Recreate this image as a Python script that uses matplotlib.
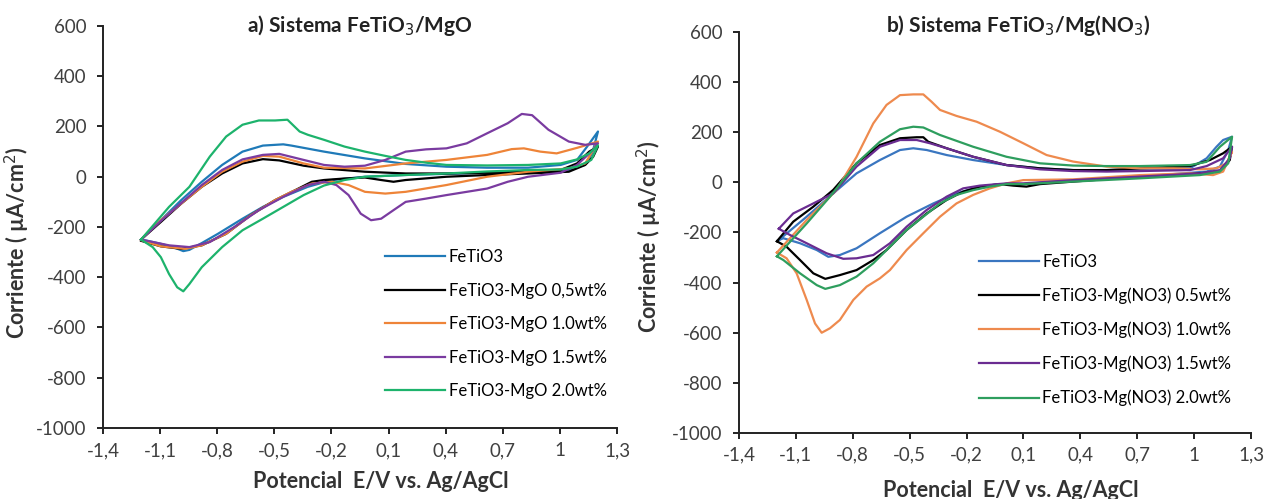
import matplotlib
matplotlib.use("Agg")
import matplotlib.pyplot as plt
from matplotlib.ticker import FixedLocator, FuncFormatter

plt.rcParams['font.family'] = ['Lato', 'DejaVu Sans']

# ---------------- a) FeTiO3 / MgO ----------------
a_fetio3_E = [-1.2, -1.096, -0.989, -0.881, -0.774, -0.667, -0.56, -0.453, -0.41, -0.239, -0.024, 0.19, 0.404, 0.618,
              0.833, 1.004, 1.09, 1.143, 1.2,
              1.17, 1.13, 1.047, 0.833, 0.618, 0.19, -0.024, -0.196, -0.324, -0.453, -0.56, -0.667, -0.796, -0.881,
              -0.946, -0.978, -1.031, -1.096, -1.16, -1.2]
a_fetio3_I = [-250, -173, -93, -20, 47, 100, 124, 129, 124, 100, 73, 51, 40, 36,
              36, 47, 67, 120, 180,
              93, 47, 27, 20, 16, 7, 0, -13, -40, -80, -120, -167, -227, -264,
              -291, -296, -280, -267, -256, -250]

a_05_E = [-1.2, -1.096, -0.989, -0.881, -0.774, -0.667, -0.56, -0.474, -0.346, -0.239, -0.024, 0.19, 0.404, 0.618,
          0.833, 1.004, 1.09, 1.154, 1.2,
          1.175, 1.133, 1.047, 0.833, 0.618, 0.404, 0.19, 0.126, 0.061, -0.024, -0.131, -0.239, -0.303, -0.389,
          -0.496, -0.624, -0.753, -0.881, -0.989, -1.096, -1.2]
a_05_I = [-250, -180, -107, -40, 13, 53, 70, 65, 44, 33, 20, 13, 13, 16,
          20, 27, 53, 100, 120,
          80, 47, 20, 13, 7, 0, -13, -20, -13, -3, -7, -13, -20, -53,
          -93, -153, -227, -273, -287, -277, -255]

a_10_E = [-1.2, -1.096, -0.881, -0.774, -0.667, -0.56, -0.474, -0.346, -0.239, -0.024, 0.19, 0.404, 0.618,
          0.747, 0.811, 0.897, 0.983, 1.09, 1.2,
          1.175, 1.133, 1.047, 0.833, 0.618, 0.404, 0.19, 0.083, -0.024, -0.11, -0.196, -0.303, -0.41,
          -0.496, -0.624, -0.753, -0.881, -0.967, -1.096, -1.2]
a_10_I = [-250, -173, -40, 20, 60, 83, 80, 53, 36, 33, 53, 67, 87,
          110, 113, 100, 93, 115, 140,
          107, 53, 33, 20, 0, -33, -60, -67, -60, -33, -20, -27, -60,
          -93, -153, -227, -273, -287, -277, -252]

a_15_E = [-1.2, -1.096, -0.881, -0.774, -0.667, -0.56, -0.474, -0.346, -0.239, -0.131, -0.024, 0.083, 0.19, 0.297,
          0.404, 0.511, 0.618, 0.726, 0.8, 0.854, 0.94, 1.047, 1.133, 1.2,
          1.175, 1.09, 1.004, 0.833, 0.726, 0.618, 0.511, 0.404, 0.297, 0.19, 0.126, 0.061, 0.008, -0.046,
          -0.11, -0.174, -0.239, -0.324, -0.453, -0.581, -0.71, -0.839, -0.946, -1.053, -1.2]
a_15_I = [-250, -176, -33, 27, 69, 87, 91, 67, 47, 40, 44, 67, 100, 109,
          113, 133, 173, 213, 250, 245, 187, 140, 127, 133,
          107, 47, 16, 0, -20, -47, -60, -73, -87, -100, -133, -167, -173, -147,
          -73, -33, -20, -33, -80, -133, -200, -260, -280, -273, -250]

a_20_E = [-1.2, -1.053, -0.946, -0.839, -0.753, -0.667, -0.581, -0.496, -0.431, -0.367, -0.324, -0.239, -0.131,
          -0.024, 0.083, 0.19, 0.297, 0.404, 0.618, 0.833, 1.004, 1.09, 1.154, 1.2,
          1.165, 1.09, 1.004, 0.833, 0.618, 0.404, 0.19, -0.024, -0.131, -0.239, -0.346, -0.453, -0.56, -0.667,
          -0.774, -0.881, -0.946, -0.978, -1.01, -1.053, -1.096, -1.139, -1.2]
a_20_I = [-250, -120, -40, 80, 160, 207, 224, 224, 227, 180, 167, 147, 120,
          100, 83, 67, 56, 47, 45, 47, 53, 69, 93, 125,
          67, 40, 29, 27, 21, 13, 7, 0, -13, -35, -73, -120, -167, -213,
          -280, -360, -427, -456, -440, -387, -320, -280, -250]

# ---------------- b) FeTiO3 / Mg(NO3) ----------------
b_fetio3_E = [-1.19, -1.043, -0.903, -0.78, -0.657, -0.551, -0.481, -0.41, -0.305, -0.165, 0.011, 0.187, 0.362,
              0.538, 0.714, 0.978, 1.066, 1.118, 1.153, 1.2,
              1.18, 1.136, 1.066, 0.714, 0.362, 0.099, -0.024, -0.13, -0.253, -0.375, -0.516, -0.657, -0.78,
              -0.868, -0.929, -0.99, -1.078, -1.166, -1.19]
b_fetio3_I = [-230, -137, -44, 36, 89, 129, 136, 129, 109, 89, 69, 56, 49,
              47, 49, 56, 96, 142, 169, 182,
              129, 63, 43, 23, 9, -7, -7, -17, -44, -84, -137, -203, -263,
              -290, -297, -270, -243, -223, -230]

b_05_E = [-1.2, -1.114, -1.008, -0.903, -0.78, -0.657, -0.551, -0.463, -0.428, -0.402, -0.305, -0.165, 0.011,
          0.187, 0.362, 0.538, 0.714, 0.978, 1.083, 1.153, 1.2,
          1.188, 1.136, 1.03, 0.714, 0.362, 0.187, 0.116, 0.046, -0.024, -0.13, -0.218, -0.305, -0.41, -0.516,
          -0.622, -0.692, -0.78, -0.868, -0.945, -1.008, -1.078, -1.149, -1.2]
b_05_I = [-235, -157, -97, -30, 76, 149, 176, 180, 180, 162, 136, 102, 69,
          56, 49, 49, 56, 65, 89, 116, 142,
          89, 43, 36, 23, 3, -7, -17, -13, -7, -17, -37, -70, -124, -190,
          -270, -310, -350, -370, -385, -363, -310, -257, -235]

b_10_E = [-1.2, -1.043, -0.885, -0.78, -0.692, -0.622, -0.551, -0.481, -0.428, -0.385, -0.34, -0.253, -0.147,
          -0.024, 0.099, 0.222, 0.362, 0.538, 0.714, 0.89, 1.03, 1.118, 1.171, 1.2,
          1.153, 1.1, 0.978, 0.714, 0.362, 0.099, 0.011, -0.077, -0.165, -0.253, -0.34, -0.428, -0.516, -0.604,
          -0.657, -0.727, -0.797, -0.868, -0.92, -0.964, -0.999, -1.043, -1.096, -1.149, -1.2]
b_10_I = [-280, -150, -30, 102, 235, 309, 348, 351, 351, 322, 289, 265, 242,
          202, 156, 109, 83, 63, 56, 56, 52, 56, 76, 122,
          43, 29, 36, 29, 12, 9, -4, -24, -50, -84, -137, -203, -270, -350,
          -383, -416, -469, -549, -582, -600, -563, -469, -363, -303, -280]

b_15_E = [-1.19, -1.114, -1.008, -0.903, -0.78, -0.657, -0.551, -0.463, -0.393, -0.305, -0.165, 0.011, 0.187,
          0.362, 0.538, 0.714, 0.978, 1.066, 1.153, 1.2,
          1.188, 1.136, 1.03, 0.714, 0.362, 0.099, 0.011, -0.13, -0.218, -0.305, -0.41, -0.516, -0.604, -0.692,
          -0.78, -0.85, -0.938, -1.043, -1.131, -1.19]
b_15_I = [-185, -124, -84, -44, 63, 142, 169, 169, 156, 136, 102, 69, 52,
          45, 43, 45, 49, 65, 96, 142,
          96, 49, 36, 23, 9, -4, -4, -13, -24, -57, -110, -177, -243, -290,
          -303, -305, -283, -243, -210, -185]

b_20_E = [-1.2, -1.043, -0.92, -0.78, -0.657, -0.551, -0.481, -0.428, -0.34, -0.165, 0.011, 0.187, 0.362,
          0.538, 0.714, 0.978, 1.066, 1.136, 1.2,
          1.18, 1.136, 1.03, 0.714, 0.362, 0.099, 0.011, -0.077, -0.165, -0.253, -0.34, -0.428, -0.516, -0.604,
          -0.692, -0.78, -0.868, -0.945, -0.99, -1.078, -1.166, -1.2]
b_20_I = [-295, -164, -57, 76, 162, 212, 222, 219, 189, 142, 102, 76, 67,
          65, 65, 69, 82, 142, 182,
          76, 43, 29, 16, 3, -7, -7, -17, -31, -50, -84, -137, -190, -257,
          -323, -376, -410, -425, -410, -363, -310, -295]

x_ticks = [-1.4, -1.1, -0.8, -0.5, -0.2, 0.1, 0.4, 0.7, 1.0, 1.3]
y_ticks = [600, 400, 200, 0, -200, -400, -600, -800, -1000]

labels_a = ['FeTiO3', 'FeTiO3-MgO 0,5wt%', 'FeTiO3-MgO 1.0wt%', 'FeTiO3-MgO 1.5wt%', 'FeTiO3-MgO 2.0wt%']
labels_b = ['FeTiO3', 'FeTiO3-Mg(NO3) 0.5wt%', 'FeTiO3-Mg(NO3) 1.0wt%', 'FeTiO3-Mg(NO3) 1.5wt%',
            'FeTiO3-Mg(NO3) 2.0wt%']

colors_a = ['#1F7AB8', '#000000', '#EE8438', '#7A3BA0', '#1DB36C']
colors_b = ['#3A76C0', '#000000', '#EE8A4E', '#6A2C91', '#2E9E5E']

series_a = [(a_fetio3_E, a_fetio3_I), (a_05_E, a_05_I), (a_10_E, a_10_I), (a_15_E, a_15_I), (a_20_E, a_20_I)]
series_b = [(b_fetio3_E, b_fetio3_I), (b_05_E, b_05_I), (b_10_E, b_10_I), (b_15_E, b_15_I), (b_20_E, b_20_I)]


def comma(v, pos):
    s = f'{v:.1f}'.replace('.', ',')
    if s.endswith(',0'):
        s = s[:-2]
    return s


def style_axes(ax):
    ax.set_xlim(-1.4, 1.3)
    ax.set_ylim(-1000, 600)
    ax.xaxis.set_major_locator(FixedLocator(x_ticks))
    ax.yaxis.set_major_locator(FixedLocator(y_ticks))
    ax.xaxis.set_major_formatter(FuncFormatter(comma))
    ax.yaxis.set_major_formatter(FuncFormatter(lambda v, p: f'{int(v)}'))
    for s in ['top', 'right']:
        ax.spines[s].set_visible(False)
    for s in ['left', 'bottom']:
        ax.spines[s].set_linewidth(1.4)
        ax.spines[s].set_color('#222222')
    ax.tick_params(axis='both', direction='out', length=4, width=1.4, color='#222222',
                   labelsize=13.5, labelcolor='#404040')
    ax.tick_params(axis='y', pad=8)
    ax.tick_params(axis='x', pad=6)
    ax.set_ylabel('Corriente ( µA/cm$^2$)', fontsize=15.5, fontweight='bold', color='#333333')
    ax.set_xlabel('Potencial  E/V vs. Ag/AgCl', fontsize=15.5, fontweight='bold', color='#333333')


fig = plt.figure(figsize=(12.68, 4.99), dpi=100)
ax1 = fig.add_axes([0.0812, 0.1423, 0.4054, 0.8056])
ax2 = fig.add_axes([0.5828, 0.1323, 0.4038, 0.8036])

for (E, I), c, lab in zip(series_a, colors_a, labels_a):
    ax1.plot(E, I, color=c, lw=1.6, label=lab)
for (E, I), c, lab in zip(series_b, colors_b, labels_b):
    ax2.plot(E, I, color=c, lw=1.6, label=lab)

style_axes(ax1)
style_axes(ax2)

ax1.yaxis.set_label_coords(-0.138, 0.46)
ax2.yaxis.set_label_coords(-0.146, 0.49)
ax1.xaxis.set_label_coords(0.54, -0.108)
ax2.xaxis.set_label_coords(0.53, -0.118)

ax1.text(0.5, 1.0, 'a) Sistema FeTiO$_3$/MgO', transform=ax1.transAxes, ha='center', va='center',
         fontsize=15, fontweight='bold', color='#222222')
ax2.text(0.545, 1.017, 'b) Sistema FeTiO$_3$/Mg(NO$_3$)', transform=ax2.transAxes, ha='center', va='center',
         fontsize=15, fontweight='bold', color='#222222')

leg_kw = dict(frameon=False, fontsize=12, handlelength=3.6, handletextpad=0.2, labelspacing=1.05,
              borderaxespad=0, borderpad=0)
ax1.legend(loc='upper left', bbox_to_anchor=(0.549, 0.445), **leg_kw)
ax2.legend(loc='upper left', bbox_to_anchor=(0.469, 0.446), **leg_kw)

fig.savefig('out.png', dpi=100)
